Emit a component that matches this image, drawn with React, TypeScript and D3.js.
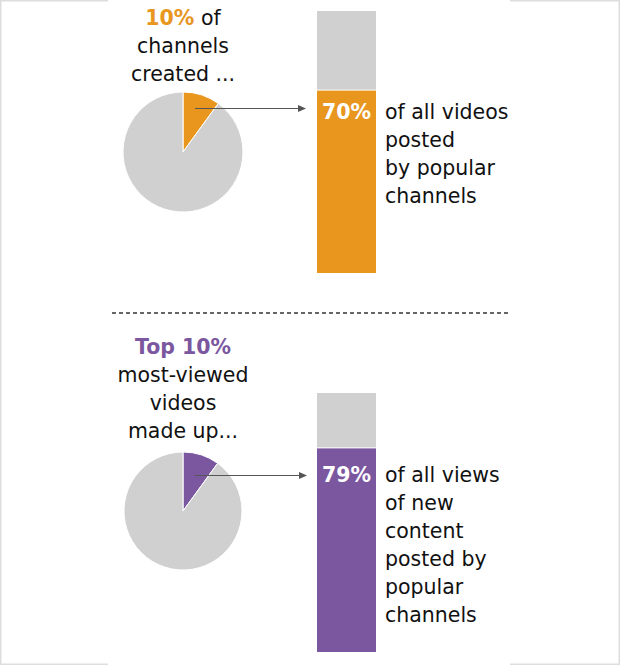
import React from "react";
import * as d3 from "d3";

const W = 620;
const H = 665;

// Data
const pieShares = [10, 10]; // top share for each panel (percent)
const barShares = [70, 79]; // share of bar (percent)
const barLabels = ["70%", "79%"];
const colors = ["#E8961E", "#7B57A0"];
const titleBold = ["10%", "Top 10%"];
const titleLines = [
  [" of", "channels", "created ..."],
  ["", "most-viewed", "videos", "made up..."],
];
const descLines = [
  ["of all videos", "posted", "by popular", "channels"],
  ["of all views", "of new", "content", "posted by", "popular", "channels"],
];

const GRAY = "#D0D0D0";
const FONT = "'DejaVu Sans', sans-serif";
const FS = 20.5;

type Layout = {
  pieCx: number; pieCy: number; r: number;
  barTop: number; barBottom: number;
  arrowY: number; arrowX1: number; arrowX2: number;
  titleY: number; boldOnOwnLine: boolean; textY: number;
};

const layouts: Layout[] = [
  { pieCx: 183, pieCy: 152, r: 60, barTop: 11, barBottom: 273, arrowY: 108.5, arrowX1: 195, arrowX2: 306, titleY: 25, boldOnOwnLine: false, textY: 119 },
  { pieCx: 183, pieCy: 511, r: 59, barTop: 393, barBottom: 652, arrowY: 475.5, arrowX1: 195, arrowX2: 307, titleY: 354, boldOnOwnLine: true, textY: 482 },
];

const barX = 317;
const barW = 59;
const LH = 28;

function Panel({ i }: { i: number }) {
  const L = layouts[i];
  const pie = d3.pie<number>().sort(null).value((d) => d)([pieShares[i], 100 - pieShares[i]]);
  const arc = d3.arc<d3.PieArcDatum<number>>().innerRadius(0).outerRadius(L.r);
  const y = d3.scaleLinear().domain([0, 100]).range([L.barBottom, L.barTop]);
  const v = barShares[i];
  const lines = titleLines[i];
  return (
    <g>
      {/* title */}
      <text x={L.pieCx} y={L.titleY} textAnchor="middle" fontFamily={FONT} fontSize={FS} fill="#111">
        <tspan fontWeight="bold" fill={colors[i]}>{titleBold[i]}</tspan>
        {!L.boldOnOwnLine && <tspan>{lines[0]}</tspan>}
      </text>
      {lines.slice(1).map((t, k) => (
        <text key={k} x={L.pieCx} y={L.titleY + LH * (k + 1)} textAnchor="middle" fontFamily={FONT} fontSize={FS} fill="#111">
          {t}
        </text>
      ))}
      {/* pie */}
      <g transform={`translate(${L.pieCx},${L.pieCy})`}>
        {pie.map((d, k) => (
          <path key={k} d={arc(d) || ""} fill={k === 0 ? colors[i] : GRAY} stroke="#fff" strokeWidth={1} />
        ))}
      </g>
      {/* bar */}
      <rect x={barX} y={y(100)} width={barW} height={y(v) - y(100)} fill={GRAY} />
      <rect x={barX} y={y(v) + 1} width={barW} height={y(0) - y(v) - 1} fill={colors[i]} />
      <text x={barX + barW / 2} y={L.textY} textAnchor="middle" fontFamily={FONT} fontSize={FS} fontWeight="bold" fill="#fff">
        {barLabels[i]}
      </text>
      {descLines[i].map((t, k) => (
        <text key={k} x={385} y={L.textY + LH * k} fontFamily={FONT} fontSize={FS} fill="#111">
          {t}
        </text>
      ))}
      {/* arrow */}
      <line x1={L.arrowX1} y1={L.arrowY} x2={L.arrowX2 - 6} y2={L.arrowY} stroke="#555" strokeWidth={1} />
      <path d={`M${L.arrowX2},${L.arrowY} L${L.arrowX2 - 8},${L.arrowY - 3.5} L${L.arrowX2 - 8},${L.arrowY + 3.5} Z`} fill="#555" />
    </g>
  );
}

export default function App() {
  return (
    <svg width={W} height={H} style={{ position: "absolute", left: 0, top: 0, background: "#fff" }}>
      {/* frame */}
      <g stroke="#DDDDDD" strokeWidth={1.5} fill="none">
        <line x1={0.75} y1={0} x2={0.75} y2={H} />
        <line x1={W - 0.75} y1={0} x2={W - 0.75} y2={H} />
        <line x1={0} y1={0.75} x2={108} y2={0.75} />
        <line x1={510} y1={0.75} x2={W} y2={0.75} />
        <line x1={0} y1={H - 0.75} x2={108} y2={H - 0.75} />
        <line x1={510} y1={H - 0.75} x2={W} y2={H - 0.75} />
      </g>
      <Panel i={0} />
      <line x1={112} y1={313} x2={510} y2={313} stroke="#666" strokeWidth={2} strokeDasharray="4,3" />
      <Panel i={1} />
    </svg>
  );
}
